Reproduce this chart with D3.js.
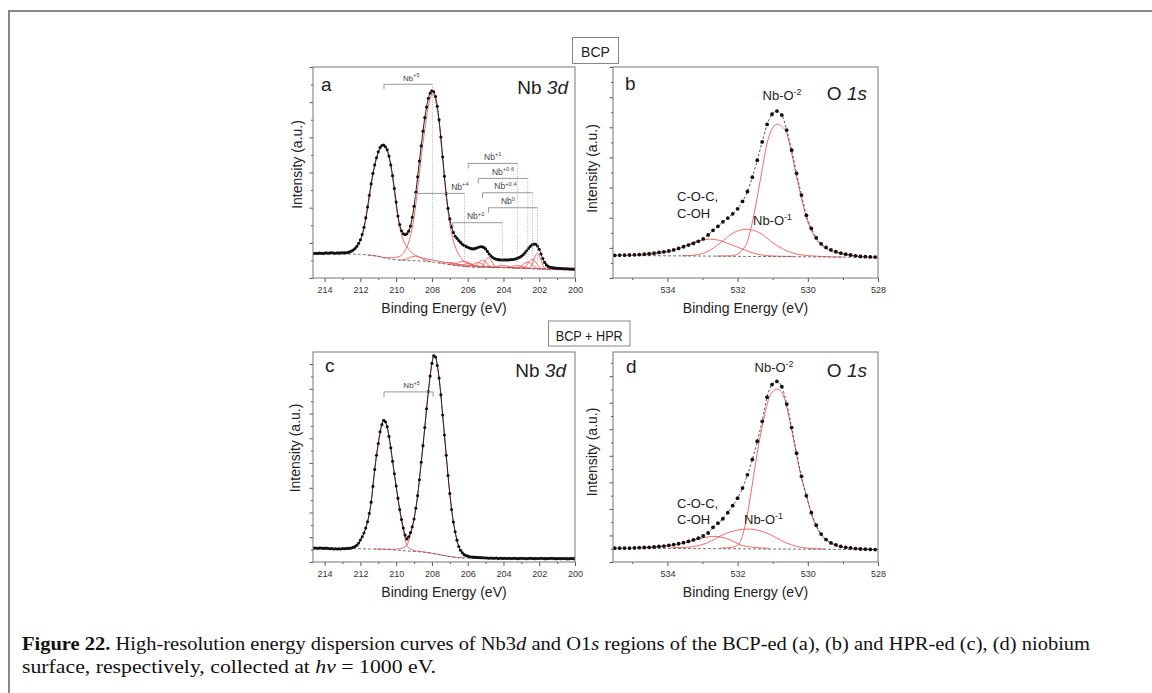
<!DOCTYPE html>
<html>
<head>
<meta charset="utf-8">
<script src="https://cdn.jsdelivr.net/npm/d3@7"></script>
<style>
  body { margin: 0; background: #fff; }
  svg { display: block; }
</style>
</head>
<body>
<div id="chart-container"></div>
<script>
// ---------- data (intensities in arbitrary units, 0-100 of the plot height) ----------

// energy grids of the measured spectra (eV)
const nb3dEnergy = d3.range(0, 147).map(i => +(214.6 - 0.1 * i).toFixed(2));
const o1sEnergy = d3.range(0, 54).map(i => +(535.5 - 0.14 * i).toFixed(2));

// (a) Nb 3d, BCP
const nb3dBcpCounts = [
  11.6, 11.7, 11.6, 11.8, 11.7, 11.6, 11.8, 11.9, 11.7, 11.9,
  12.0, 11.8, 11.7, 11.9, 11.8, 11.9, 12.0, 11.9, 12.0, 12.1,
  12.4, 12.8, 13.3, 14.0, 15.0, 16.4, 18.1, 20.6, 24.0, 28.5,
  33.6, 39.2, 44.6, 49.6, 53.6, 57.0, 59.8, 61.8, 62.8, 63.0,
  62.2, 60.8, 57.8, 53.6, 48.5, 42.4, 36.0, 29.4, 25.3, 22.4,
  21.0, 20.5, 21.0, 22.2, 24.6, 28.8, 34.0, 40.6, 48.0, 55.4,
  62.6, 69.6, 76.0, 81.0, 85.2, 87.6, 88.7, 88.2, 86.0, 81.4,
  75.0, 66.8, 57.4, 48.2, 40.0, 33.0, 28.0, 24.2, 21.6, 19.8,
  18.8, 17.8, 16.9, 16.0, 15.4, 15.0, 14.6, 14.2, 13.9, 13.8,
  13.9, 14.2, 14.6, 14.8, 14.8, 14.5, 13.8, 12.6, 11.4, 10.4,
  9.7, 9.2, 8.9, 8.7, 8.6, 8.5, 8.5, 8.6, 8.5, 8.6,
  8.7, 8.8, 8.9, 9.1, 9.4, 9.8, 10.3, 11.0, 11.9, 12.9,
  14.0, 15.0, 15.7, 16.1, 16.0, 15.2, 13.6, 11.4, 9.2, 7.4,
  6.2, 5.5, 5.1, 4.9, 4.8, 4.7, 4.6, 4.6, 4.5, 4.5,
  4.4, 4.4, 4.4, 4.3, 4.3, 4.3, 4.2
];
const nb3dBcpBg = [[214.65, 11.5], [213, 11.4], [212, 11.2], [211, 10.2], [210.5, 9.2], [210, 8.7], [209, 8.2],
  [208.5, 8.0], [208.1, 7.7], [207.5, 7.0], [207, 6.3], [206.6, 5.8], [206, 5.3], [205, 5.0], [204, 4.9],
  [203, 4.6], [202.1, 4.3], [201, 4.0], [200, 3.8]];
const nb3dBcpNb5Low = [[212.6, 12.1], [212.4, 12.8], [212.2, 14.5], [212.0, 17.6], [211.8, 23.2], [211.6, 32.4],
  [211.4, 43.6], [211.2, 53.0], [211.0, 59.2], [210.8, 62.4], [210.7, 62.6], [210.6, 61.8], [210.4, 57.2],
  [210.2, 47.6], [210.0, 34.0], [209.8, 24.0], [209.6, 18.0], [209.4, 14.8], [209.2, 12.6], [209.0, 11.2],
  [208.8, 10.3], [208.5, 9.4], [208.0, 8.6], [207.5, 7.8], [207.0, 7.0], [206.0, 5.9], [205, 5.3], [204, 5.05],
  [203, 4.75], [202, 4.45], [201, 4.1], [200, 3.9]];
const nb3dBcpNb5High = [[211.6, 10.9], [211.0, 10.3], [210.6, 9.6], [210.2, 9.6], [209.9, 10.0], [209.6, 11.6],
  [209.4, 14.8], [209.2, 19.8], [209.0, 29.0], [208.8, 42.0], [208.6, 57.0], [208.4, 70.4], [208.2, 81.4],
  [208.0, 86.8], [207.9, 86.8], [207.8, 84.2], [207.6, 73.4], [207.4, 56.0], [207.2, 38.4], [207.0, 25.6],
  [206.8, 17.6], [206.6, 12.8], [206.4, 9.8], [206.2, 8.0], [206.0, 6.9], [205.6, 5.9], [205.0, 5.3],
  [204, 5.0], [203, 4.7], [202, 4.35], [201, 4.0], [200, 3.8]];
const nb3dBcpMinor = [
  [[209.83, 8.4], [209.47, 8.75], [209.2, 9.85], [208.93, 10.35], [208.66, 9.7], [208.39, 8.5], [208.03, 7.65]],
  [[207.08, 6.4], [206.72, 6.55], [206.45, 7.55], [206.18, 7.9], [205.91, 7.15], [205.64, 5.8], [205.28, 5.1]],
  [[207.63, 7.15], [207.31, 7.1], [207.07, 7.3], [206.83, 7.2], [206.59, 6.7], [206.35, 5.9], [206.03, 5.3]],
  [[204.86, 5.0], [204.54, 5.2], [204.3, 5.65], [204.06, 5.9], [203.82, 5.6], [203.58, 5.0], [203.26, 4.7]],
  [[206.77, 6.0], [206.45, 6.0], [206.21, 6.5], [205.97, 6.8], [205.73, 6.3], [205.49, 5.5], [205.17, 5.0]],
  [[204.02, 4.9], [203.7, 5.1], [203.46, 5.65], [203.22, 5.9], [202.98, 5.5], [202.74, 4.85], [202.42, 4.45]],
  [[206.11, 5.35], [205.83, 5.75], [205.62, 6.85], [205.41, 7.3], [205.2, 6.7], [204.99, 5.55], [204.71, 5.0]],
  [[203.34, 4.7], [203.06, 5.35], [202.85, 6.8], [202.64, 7.5], [202.43, 6.65], [202.22, 5.1], [201.94, 4.2]],
  [[205.77, 5.2], [205.53, 5.95], [205.35, 7.6], [205.17, 8.4], [204.99, 7.55], [204.81, 5.85], [204.57, 4.95]],
  [[202.98, 4.6], [202.74, 5.6], [202.56, 7.75], [202.38, 8.8], [202.2, 7.6], [202.02, 5.4], [201.78, 4.2]],
  [[205.34, 5.05], [205.14, 6.15], [204.99, 8.45], [204.84, 9.6], [204.69, 8.45], [204.54, 6.1], [204.34, 4.95]],
  [[202.6, 4.5], [202.4, 6.25], [202.25, 9.9], [202.1, 11.7], [201.95, 9.75], [201.8, 6.0], [201.6, 4.15]]
];
// doublet assignments: [3d3/2, 3d5/2] binding energies
const nb3dBcpStates = ["+5", "+4", "+2", "+1", "+0.6", "+0.4", "0"];
const nb3dBcpPairs = [[210.68, 207.97], [208.93, 206.18], [206.83, 204.06], [205.97, 203.22],
  [205.41, 202.64], [205.17, 202.38], [204.84, 202.1]];

// (c) Nb 3d, BCP + HPR
const nb3dHprCounts = [
  6.6, 6.7, 6.5, 6.6, 6.7, 6.5, 6.5, 6.6, 6.4, 6.3,
  6.4, 6.2, 6.3, 6.2, 6.3, 6.2, 6.4, 6.3, 6.4, 6.5,
  6.5, 6.7, 7.0, 7.4, 8.0, 9.0, 10.5, 12.0, 13.8, 16.2,
  19.2, 23.2, 28.5, 36.0, 44.0, 50.8, 56.4, 62.0, 65.4, 67.5,
  66.8, 64.4, 59.8, 54.4, 48.0, 42.0, 36.2, 30.4, 25.0, 20.2,
  16.2, 12.8, 11.0, 12.0, 14.0, 16.8, 20.5, 25.6, 31.6, 39.2,
  47.5, 55.4, 64.0, 73.0, 81.2, 88.6, 94.6, 98.2, 97.6, 93.6,
  87.6, 79.6, 70.0, 60.5, 50.8, 41.2, 32.6, 25.0, 19.0, 14.4,
  10.4, 7.4, 5.6, 4.4, 3.5, 3.1, 2.8, 2.5, 2.4, 2.3,
  2.2, 2.2, 2.1, 2.1, 2.0, 2.0, 1.9, 1.9, 1.8, 1.9,
  1.8, 1.8, 1.9, 1.7, 1.8, 1.8, 1.7, 1.8, 1.7, 1.8,
  1.7, 1.7, 1.8, 1.7, 1.6, 1.7, 1.8, 1.7, 1.7, 1.6,
  1.7, 1.8, 1.7, 1.7, 1.6, 1.7, 1.7, 1.8, 1.7, 1.6,
  1.6, 1.7, 1.7, 1.8, 1.7, 1.6, 1.6, 1.7, 1.6, 1.7,
  1.7, 1.6, 1.5, 1.6, 1.7, 1.6, 1.6
];
const nb3dHprBg = [[214.65, 6.5], [212.5, 6.4], [211.5, 6.2], [210.7, 6.0], [210, 5.7], [209.2, 5.1], [208.5, 4.7],
  [208.1, 4.3], [207.6, 3.5], [207.1, 2.7], [206.6, 2.1], [206.2, 1.9], [205, 1.75], [200, 1.6]];
const nb3dHprNb5Low = [[212.6, 6.6], [212.4, 6.9], [212.2, 7.8], [212.0, 10.2], [211.8, 13.6], [211.6, 19.0],
  [211.4, 28.3], [211.2, 43.8], [211.0, 56.2], [210.8, 65.2], [210.7, 67.2], [210.6, 66.4], [210.4, 59.4],
  [210.2, 47.6], [210.0, 35.6], [209.8, 24.4], [209.6, 15.0], [209.4, 8.0], [209.2, 6.2], [209.0, 5.5],
  [208.7, 5.1], [208.3, 4.6], [207.8, 3.9], [207.3, 3.1], [206.8, 2.4], [206.2, 1.95]];
const nb3dHprNb5High = [[211.2, 6.2], [210.6, 6.1], [210.2, 6.0], [209.9, 6.2], [209.6, 6.8], [209.4, 8.0],
  [209.2, 12.8], [209.0, 20.2], [208.8, 31.4], [208.6, 47.3], [208.4, 63.8], [208.2, 81.0], [208.0, 94.4],
  [207.9, 98.0], [207.8, 97.4], [207.6, 87.4], [207.4, 69.8], [207.2, 50.6], [207.0, 32.4], [206.8, 18.8],
  [206.6, 10.2], [206.4, 5.4], [206.2, 3.4], [205.8, 2.3], [205.2, 1.9], [204, 1.75], [202, 1.7], [200, 1.65]];
const nb3dHprStates = ["+5"];
const nb3dHprPairs = [[210.68, 207.93]];

// (b) O 1s, BCP
const o1sBcpCounts = [
  10.7, 10.8, 10.8, 10.9, 11.0, 11.1, 11.3, 11.5, 11.8, 12.1,
  12.4, 12.8, 13.3, 14.0, 14.8, 15.6, 16.4, 17.4, 18.5, 20.4,
  22.6, 24.5, 26.6, 28.4, 30.4, 32.8, 36.3, 41.0, 47.8, 55.8,
  64.5, 72.8, 77.6, 79.1, 77.2, 70.1, 60.6, 49.6, 39.3, 29.7,
  23.5, 19.0, 16.2, 14.5, 13.3, 12.5, 11.8, 11.3, 10.9, 10.5,
  10.2, 10.1, 10.0, 9.9
];
const o1sBcpBg = [[535.55, 10.7], [528, 9.8]];
const o1sBcpNbO2 = [[532.6, 10.4], [532.2, 10.5], [532.0, 11.4], [531.85, 13.6], [531.74, 16.5], [531.6, 25.0],
  [531.45, 37.5], [531.3, 51.5], [531.15, 64.5], [531.0, 71.2], [530.87, 72.9], [530.74, 71.8], [530.6, 68.5],
  [530.46, 59.0], [530.32, 48.0], [530.17, 37.0], [530.03, 28.0], [529.84, 20.5], [529.65, 16.0], [529.37, 13.0],
  [528.99, 11.2], [528.5, 10.1], [528.0, 9.8]];
const o1sBcpNbO1 = [[533.6, 10.5], [533.2, 10.9], [532.85, 12.6], [532.5, 16.5], [532.13, 21.3], [531.95, 22.6],
  [531.75, 23.1], [531.55, 22.6], [531.36, 21.3], [530.98, 16.5], [530.6, 12.9], [530.2, 11.0], [529.7, 10.3],
  [529.0, 9.9]];
const o1sBcpCoc = [[535.2, 10.7], [534.6, 10.9], [534.12, 11.9], [533.64, 14.2], [533.2, 17.3], [533.0, 18.0],
  [532.8, 18.4], [532.5, 17.8], [532.3, 16.5], [531.93, 14.2], [531.55, 11.8], [531.08, 10.5], [530.4, 10.2]];

// (d) O 1s, BCP + HPR
const o1sHprCounts = [
  6.6, 6.6, 6.6, 6.6, 6.7, 6.8, 6.9, 7.0, 7.2, 7.4,
  7.6, 7.9, 8.3, 8.7, 9.2, 9.8, 10.5, 11.3, 12.4, 13.8,
  16.5, 18.5, 20.6, 23.5, 26.8, 30.4, 35.2, 41.5, 48.8, 57.5,
  67.0, 78.5, 84.5, 86.0, 83.5, 75.2, 64.0, 51.8, 40.8, 31.5,
  23.5, 17.5, 13.3, 10.7, 9.1, 8.2, 7.4, 7.0, 6.7, 6.4,
  6.2, 6.1, 6.0, 5.9
];
const o1sHprBg = [[535.55, 6.6], [528, 5.9]];
const o1sHprNbO2 = [[532.5, 6.6], [532.2, 6.9], [532.0, 8.0], [531.88, 11.6], [531.74, 21.0], [531.6, 35.0],
  [531.45, 51.0], [531.27, 67.0], [531.08, 79.0], [530.89, 82.3], [530.75, 81.0], [530.65, 77.0], [530.51, 67.0],
  [530.36, 54.5], [530.22, 42.7], [530.03, 31.0], [529.84, 20.0], [529.65, 13.7], [529.37, 9.2], [528.99, 7.0],
  [528.5, 6.2], [528.0, 5.9]];
const o1sHprNbO1 = [[533.9, 6.8], [533.45, 7.0], [532.88, 9.0], [532.31, 13.8], [532.0, 15.2], [531.74, 15.7],
  [531.45, 15.2], [531.17, 13.8], [530.6, 9.0], [530.03, 6.6], [529.5, 6.2]];
const o1sHprCoc = [[534.9, 6.7], [534.5, 6.8], [533.93, 7.8], [533.36, 9.8], [532.95, 11.6], [532.69, 12.2],
  [532.4, 11.6], [532.22, 10.6], [531.93, 8.2], [531.55, 7.0], [531.1, 6.5]];

// axis ticks
const nb3dMajorTicks = [214, 212, 210, 208, 206, 204, 202, 200];
const nb3dMinorTicks = [213, 211, 209, 207, 205, 203, 201];
const o1sMajorTicks = [534, 532, 530, 528];
const o1sMinorTicks = [535, 533, 531, 529];

// ---------- layout ----------
const width = 1152;
const height = 693;
const red = "#f05a5a";
const sans = "'Liberation Sans', Arial, sans-serif";

const svg = d3.select("#chart-container")
  .append("svg")
  .attr("width", width)
  .attr("height", height)
  .style("font-family", sans);

// outer page frame
svg.append("rect")
  .attr("x", 9).attr("y", 11)
  .attr("width", 1300).attr("height", 900)
  .attr("fill", "none")
  .attr("stroke", "#888")
  .attr("stroke-width", 2);

// text with optional italic / superscript runs
function richText(sel, parts, size) {
  parts.forEach(p => {
    const t = sel.append("tspan").text(p.t);
    if (p.i) t.attr("font-style", "italic");
    if (p.sup) t.attr("font-size", size * 0.68).attr("dy", -size * 0.42);
  });
  return sel;
}

function drawPanel(p) {
  const x = d3.scaleLinear().domain(p.xDomain).range([p.left, p.right]);
  const y = d3.scaleLinear().domain([0, 100]).range([p.bottom, p.top]);
  const g = svg.append("g");
  const line = d3.line().x(d => x(d[0])).y(d => y(d[1])).curve(d3.curveMonotoneX);

  svg.append("clipPath").attr("id", "clip-" + p.key)
    .append("rect")
    .attr("x", p.left).attr("y", p.top)
    .attr("width", p.right - p.left).attr("height", p.bottom - p.top);
  const plot = g.append("g").attr("clip-path", `url(#clip-${p.key})`);

  // fitted components
  plot.selectAll("path.comp")
    .data(p.comps)
    .join("path")
    .attr("class", "comp")
    .attr("d", line)
    .attr("fill", "none")
    .attr("stroke", red)
    .attr("stroke-width", 0.9);

  // Shirley / linear background
  plot.append("path")
    .datum(p.bg)
    .attr("d", line)
    .attr("fill", "none")
    .attr("stroke", "#666")
    .attr("stroke-width", 0.9)
    .attr("stroke-dasharray", "3,2");

  // brackets for doublets (Nb 3d only)
  if (p.pairs) {
    p.pairs.forEach((pair, i) => {
      const lv = y(p.bracketLevels[i]);
      const x1 = x(pair[0]), x2 = x(pair[1]);
      g.append("path")
        .attr("d", `M${x1},${lv + 5}V${lv}H${x2}` + (p.dropLines ? "" : `V${lv + 5}`))
        .attr("fill", "none")
        .attr("stroke", "#999")
        .attr("stroke-width", 1);
      if (p.dropLines) {
        g.append("line")
          .attr("x1", x2).attr("x2", x2)
          .attr("y1", lv).attr("y2", y(7.5))
          .attr("stroke", "#999")
          .attr("stroke-width", 0.8)
          .attr("stroke-dasharray", "1,1.5");
      }
      const fs = p.bracketFont[i];
      richText(g.append("text")
        .attr("x", (x1 + x2) / 2 + (p.bracketDx[i] || 0))
        .attr("y", lv - 3.5)
        .attr("text-anchor", "middle")
        .attr("font-size", fs)
        .attr("fill", "#444"),
        [{ t: "Nb" }, { t: p.states[i], sup: true }], fs);
    });
  }

  // measured data
  const pts = p.energy.map((e, i) => [e, p.counts[i]]);
  plot.append("path")
    .datum(pts)
    .attr("d", line)
    .attr("fill", "none")
    .attr("stroke", p.dataLine)
    .attr("stroke-width", p.dataLineWidth)
    .attr("stroke-dasharray", p.dataDash);
  plot.selectAll("circle.pt")
    .data(pts)
    .join("circle")
    .attr("class", "pt")
    .attr("cx", d => x(d[0]))
    .attr("cy", d => y(d[1]))
    .attr("r", p.dotR)
    .attr("fill", "#111");

  // axes
  const axX = g.append("g").attr("transform", `translate(0,${p.bottom})`)
    .call(d3.axisBottom(x).tickValues(p.xMajor).tickSize(4).tickPadding(5).tickFormat(d3.format("d")));
  g.append("g").attr("transform", `translate(0,${p.bottom})`)
    .call(d3.axisBottom(x).tickValues(p.xMinor).tickSize(2).tickFormat(""));
  const yt = d3.range(0, 100.01, p.yStep);
  g.append("g").attr("transform", `translate(${p.left},0)`)
    .call(d3.axisLeft(y).tickValues(yt.filter((d, i) => i % 2 === 0)).tickSize(3.5).tickFormat(""));
  g.append("g").attr("transform", `translate(${p.left},0)`)
    .call(d3.axisLeft(y).tickValues(yt.filter((d, i) => i % 2 === 1)).tickSize(2).tickFormat(""));
  g.selectAll(".domain").remove();
  g.selectAll(".tick line").attr("stroke", "#555");
  g.selectAll("g").attr("font-family", sans);
  axX.attr("font-size", 9);
  axX.selectAll(".tick text").attr("fill", "#333");

  // frame
  g.append("rect")
    .attr("x", p.left).attr("y", p.top)
    .attr("width", p.right - p.left).attr("height", p.bottom - p.top)
    .attr("fill", "none")
    .attr("stroke", "#777")
    .attr("stroke-width", 1);

  // axis titles
  g.append("text")
    .attr("x", (p.left + p.right) / 2)
    .attr("y", p.bottom + 34.5)
    .attr("text-anchor", "middle")
    .attr("font-size", 14)
    .attr("fill", "#222")
    .text("Binding Energy (eV)");
  g.append("text")
    .attr("transform", `translate(${p.left - p.yTitleDx},${(p.top + p.bottom) / 2 + p.yTitleDy}) rotate(-90)`)
    .attr("text-anchor", "middle")
    .attr("font-size", 14)
    .attr("fill", "#222")
    .text("Intensity (a.u.)");

  // panel annotations
  p.notes.forEach(n => {
    richText(g.append("text")
      .attr("x", n.x).attr("y", n.y)
      .attr("text-anchor", n.anchor || "start")
      .attr("font-size", n.size)
      .attr("fill", "#222"),
      n.parts, n.size);
  });
}

const nbPanel = { xDomain: [214.65, 200], xMajor: nb3dMajorTicks, xMinor: nb3dMinorTicks, energy: nb3dEnergy,
  dotR: 1.55, dataLine: "#222", dataLineWidth: 1, dataDash: null };
const oPanel = { xDomain: [535.55, 528], xMajor: o1sMajorTicks, xMinor: o1sMinorTicks, energy: o1sEnergy,
  dotR: 1.9, dataLine: "#444", dataLineWidth: 0.9, dataDash: "2.5,2" };

drawPanel({ ...nbPanel, key: "a", left: 313, right: 575, top: 67, bottom: 278, yStep: 100 / 12,
  counts: nb3dBcpCounts, bg: nb3dBcpBg, comps: [nb3dBcpNb5Low, nb3dBcpNb5High, ...nb3dBcpMinor],
  pairs: nb3dBcpPairs, states: nb3dBcpStates, dropLines: true,
  bracketLevels: [91.8, 40.1, 26.2, 54.3, 47.2, 40.4, 33.3],
  bracketFont: [8, 8.5, 8.5, 8.5, 8.5, 8.5, 8.5],
  bracketDx: [3, 20, -2, 0, 0, -2, -5],
  yTitleDx: 11, yTitleDy: -8,
  notes: [
    { x: 321, y: 91, size: 19, parts: [{ t: "a" }] },
    { x: 568, y: 94, size: 19, anchor: "end", parts: [{ t: "Nb " }, { t: "3d", i: true }] }
  ] });

drawPanel({ ...oPanel, key: "b", left: 613, right: 878, top: 67, bottom: 278, yStep: 100 / 14,
  counts: o1sBcpCounts, bg: o1sBcpBg, comps: [o1sBcpNbO2, o1sBcpNbO1, o1sBcpCoc],
  yTitleDx: 16, yTitleDy: -4,
  notes: [
    { x: 625, y: 90, size: 19, parts: [{ t: "b" }] },
    { x: 867, y: 100, size: 19, anchor: "end", parts: [{ t: "O " }, { t: "1s", i: true }] },
    { x: 782, y: 100, size: 13, anchor: "middle", parts: [{ t: "Nb-O" }, { t: "-2", sup: true }] },
    { x: 677, y: 201, size: 13, parts: [{ t: "C-O-C," }] },
    { x: 677, y: 218, size: 13, parts: [{ t: "C-OH" }] },
    { x: 753, y: 225, size: 13, parts: [{ t: "Nb-O" }, { t: "-1", sup: true }] }
  ] });

drawPanel({ ...nbPanel, key: "c", left: 313, right: 575, top: 352, bottom: 562, yStep: 5.89,
  counts: nb3dHprCounts, bg: nb3dHprBg, comps: [nb3dHprNb5Low, nb3dHprNb5High],
  pairs: nb3dHprPairs, states: nb3dHprStates, dropLines: false,
  bracketLevels: [81], bracketFont: [8], bracketDx: [3],
  yTitleDx: 13, yTitleDy: -9,
  notes: [
    { x: 325, y: 372, size: 19, parts: [{ t: "c" }] },
    { x: 566, y: 377, size: 19, anchor: "end", parts: [{ t: "Nb " }, { t: "3d", i: true }] }
  ] });

drawPanel({ ...oPanel, key: "d", left: 613, right: 878, top: 352, bottom: 562, yStep: 6.32,
  counts: o1sHprCounts, bg: o1sHprBg, comps: [o1sHprNbO2, o1sHprNbO1, o1sHprCoc],
  yTitleDx: 16, yTitleDy: -5,
  notes: [
    { x: 626, y: 373, size: 19, parts: [{ t: "d" }] },
    { x: 867, y: 377, size: 19, anchor: "end", parts: [{ t: "O " }, { t: "1s", i: true }] },
    { x: 774, y: 372, size: 13, anchor: "middle", parts: [{ t: "Nb-O" }, { t: "-2", sup: true }] },
    { x: 677, y: 508, size: 13, parts: [{ t: "C-O-C," }] },
    { x: 677, y: 524, size: 13, parts: [{ t: "C-OH" }] },
    { x: 744, y: 524, size: 13, parts: [{ t: "Nb-O" }, { t: "-1", sup: true }] }
  ] });

// treatment boxes
[{ label: "BCP", x: 572.5, y: 37.5, w: 46, h: 26, ty: 56.5, len: null },
 { label: "BCP + HPR", x: 548.5, y: 321, w: 81.5, h: 25, ty: 340.5, len: 67 }].forEach(b => {
  svg.append("rect")
    .attr("x", b.x).attr("y", b.y).attr("width", b.w).attr("height", b.h)
    .attr("fill", "#fff").attr("stroke", "#888").attr("stroke-width", 1);
  const t = svg.append("text")
    .attr("x", b.x + b.w / 2).attr("y", b.ty)
    .attr("text-anchor", "middle")
    .attr("font-size", 14)
    .attr("fill", "#222")
    .text(b.label);
  if (b.len) t.attr("textLength", b.len).attr("lengthAdjust", "spacingAndGlyphs");
});

// caption
const serif = "'Liberation Serif', 'Times New Roman', serif";
const cap1 = svg.append("text")
  .attr("x", 22).attr("y", 650)
  .attr("font-family", serif).attr("font-size", 18.5).attr("fill", "#111")
  .attr("textLength", 1068).attr("lengthAdjust", "spacingAndGlyphs");
cap1.append("tspan").attr("font-weight", "bold").text("Figure 22.");
cap1.append("tspan").text(" High-resolution energy dispersion curves of Nb3");
cap1.append("tspan").attr("font-style", "italic").text("d");
cap1.append("tspan").text(" and O1");
cap1.append("tspan").attr("font-style", "italic").text("s");
cap1.append("tspan").text(" regions of the BCP-ed (a), (b) and HPR-ed (c), (d) niobium");

const cap2 = svg.append("text")
  .attr("x", 22).attr("y", 673)
  .attr("font-family", serif).attr("font-size", 18.5).attr("fill", "#111")
  .attr("textLength", 414).attr("lengthAdjust", "spacingAndGlyphs");
cap2.append("tspan").text("surface, respectively, collected at ");
cap2.append("tspan").attr("font-style", "italic").text("hν");
cap2.append("tspan").text(" = 1000 eV.");
</script>
</body>
</html>
